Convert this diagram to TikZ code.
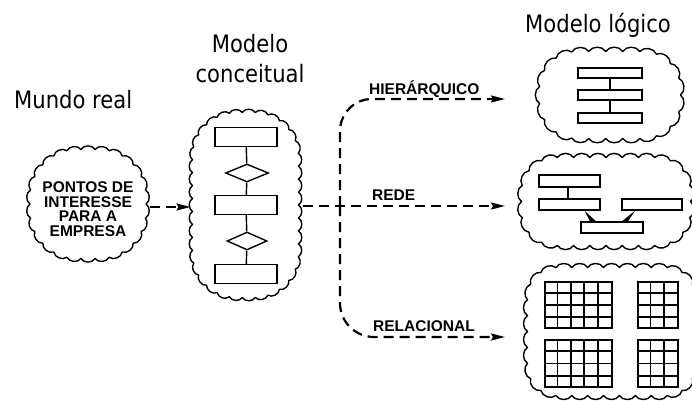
\documentclass[tikz,border=0pt]{standalone}
\usepackage{fontspec}
\usetikzlibrary{shapes.geometric,arrows.meta,calc}
\newfontfamily\headfont[FakeStretch=0.88]{DejaVu Sans}
\newfontfamily\capsfont{Liberation Sans}

% point at arc length s along a rounded rectangle (half sizes \rra, \rrb, radius \rrr)
\tikzset{
  declare function={
    rrx(\s)=(\s<\rrA) ? (\rra) : ((\s<\rrB) ? (\rra-\rrr+\rrr*cos(deg((\s-\rrA)/\rrr))) :
      ((\s<\rrC) ? (\rra-\rrr-(\s-\rrB)) : ((\s<\rrD) ? (-\rra+\rrr+\rrr*cos(90+deg((\s-\rrC)/\rrr))) :
      ((\s<\rrE) ? (-\rra) : ((\s<\rrF) ? (-\rra+\rrr+\rrr*cos(180+deg((\s-\rrE)/\rrr))) :
      ((\s<\rrG) ? (-\rra+\rrr+(\s-\rrF)) : ((\s<\rrH) ? (\rra-\rrr+\rrr*cos(270+deg((\s-\rrG)/\rrr))) :
      (\rra))))))));
    rry(\s)=(\s<\rrA) ? (\s) : ((\s<\rrB) ? (\rrb-\rrr+\rrr*sin(deg((\s-\rrA)/\rrr))) :
      ((\s<\rrC) ? (\rrb) : ((\s<\rrD) ? (\rrb-\rrr+\rrr*sin(90+deg((\s-\rrC)/\rrr))) :
      ((\s<\rrE) ? (\rrb-\rrr-(\s-\rrD)) : ((\s<\rrF) ? (-\rrb+\rrr+\rrr*sin(180+deg((\s-\rrE)/\rrr))) :
      ((\s<\rrG) ? (-\rrb) : ((\s<\rrH) ? (-\rrb+\rrr+\rrr*sin(270+deg((\s-\rrG)/\rrr))) :
      (-\rrb+\rrr+(\s-\rrH)))))))));
  },
  area/.style={inner sep=0pt, outer sep=0pt},
  puffstroke/.style={line width=1.4pt, line join=round},
  head/.style={font=\headfont\fontsize{24}{30}\selectfont, inner sep=0pt},
  tag/.style={font=\capsfont\bfseries\fontsize{15.5}{15}\selectfont, inner sep=0pt, anchor=base west},
  flow/.style={line width=2.2pt, dash pattern=on 10pt off 6pt,
    -{Stealth[length=14pt,width=7pt,inset=2pt]}},
  ent/.style={draw, line width=1.4pt, inner sep=0pt, minimum width=62pt, minimum height=19pt},
  rel/.style={diamond, draw, line width=1.4pt, inner sep=0pt, minimum width=43pt, minimum height=18pt},
  rec/.style={draw, line width=1.4pt, inner sep=0pt, minimum height=11pt},
  link/.style={line width=1.4pt},
  tbl/.style={draw, line width=1.9pt, inner sep=0pt},
  gline/.style={line width=1.7pt}
}

% scalloped outline round a node: node, half width, half height, corner radius, puff size
\newcommand\puffring[5]{%
  \pgfmathsetmacro\rra{#2}\pgfmathsetmacro\rrb{#3}\pgfmathsetmacro\rrr{#4}%
  \pgfmathsetmacro\rrA{\rrb-\rrr}%
  \pgfmathsetmacro\rrB{\rrA+pi*\rrr/2}%
  \pgfmathsetmacro\rrC{\rrB+2*(\rra-\rrr)}%
  \pgfmathsetmacro\rrD{\rrC+pi*\rrr/2}%
  \pgfmathsetmacro\rrE{\rrD+2*(\rrb-\rrr)}%
  \pgfmathsetmacro\rrF{\rrE+pi*\rrr/2}%
  \pgfmathsetmacro\rrG{\rrF+2*(\rra-\rrr)}%
  \pgfmathsetmacro\rrH{\rrG+pi*\rrr/2}%
  \pgfmathsetmacro\rrP{\rrH+\rrb-\rrr}%
  \pgfmathtruncatemacro\rrN{round(\rrP/#5)}%
  \pgfmathsetmacro\rrS{\rrP/\rrN}%
  \draw[puffstroke, shift={(#1.center)}] (\rra,0)
    foreach \k in {1,...,\rrN} {
      to[bend left=60] ({rrx(\k*\rrS)},{rry(\k*\rrS)})
    };}

\begin{document}
\begin{tikzpicture}[x=1pt,y=-1pt]
\useasboundingbox (0,0) rectangle (692,404);

% headings
\node[head, anchor=base west] (hreal) at (14,108) {Mundo real};
\node[head, anchor=base, align=center] (hconc) at (250,82) {Modelo\\conceitual};
\node[head, anchor=base west] (hlog) at (525,33) {Modelo lógico};

% real world
\node[area, minimum width=116pt, minimum height=109pt] (real) at (88,204) {};
\puffring{real}{58}{54.5}{48}{14}
\node[font=\capsfont\bfseries\fontsize{15.5}{14.5}\selectfont, align=center, inner sep=0pt] (realtxt) at (88,209)
  {PONTOS DE\\INTERESSE\\PARA A\\EMPRESA};

% conceptual model
\node[area, minimum width=106pt, minimum height=185pt] (concept) at (245.5,205) {};
\puffring{concept}{53}{92.5}{45}{13}
\node[ent] (e1) at (246,137) {};
\node[rel] (r1) at (247,173) {};
\node[ent] (e2) at (246,205) {};
\node[rel, minimum width=40pt] (r2) at (247,241) {};
\node[ent] (e3) at (246,274) {};
\draw[link] (e1) -- (r1) -- (e2) -- (r2) -- (e3);

\draw[flow, shorten <=4pt, shorten >=2pt] (real.east |- 0,207) -- (concept.west |- 0,207);

% branches to the logical models
\coordinate (split) at (340,206);
\coordinate (hierend) at (505,99);
\coordinate (redeend) at (505,206);
\coordinate (relend) at (505,337);
\draw[flow, shorten <=4pt] (concept.east |- redeend) -- (redeend);
\draw[flow, rounded corners=32pt] (split) |- (hierend);
\draw[flow, rounded corners=34pt] (split) |- (relend);

\node[tag] (thier) at (369,94) {HIERÁRQUICO};
\node[tag] (trede) at (372,200) {REDE};
\node[tag] (trel) at (373,331) {RELACIONAL};

% hierarchical
\node[area, minimum width=141pt, minimum height=87pt] (hier) at (610,95) {};
\puffring{hier}{70.5}{43.5}{38}{17}
\node[rec, minimum width=64pt, minimum height=10pt] (h1) at (610,73) {};
\node[rec, minimum width=64pt, minimum height=10pt] (h2) at (610,95) {};
\node[rec, minimum width=64pt, minimum height=10pt] (h3) at (610,118) {};
\draw[link] (h1) -- (h2) -- (h3);

% network
\node[area, minimum width=169pt, minimum height=88pt] (net) at (606,201.5) {};
\puffring{net}{84.5}{44}{35}{16}
\node[rec, minimum width=61pt, minimum height=12pt] (na) at (569.5,181) {};
\node[rec, minimum width=61pt] (nb) at (569.5,204.5) {};
\node[rec, minimum width=60pt] (nc) at (652,204.5) {};
\node[rec, minimum width=62pt] (nd) at (612,227.5) {};
\draw[link] (na.south -| 568,0) -- (nb.north -| 568,0);
\fill ([xshift=15pt]nb.south) -- ([xshift=-22pt]nd.north) -- ([xshift=-16pt]nd.north) -- cycle;
\fill ([xshift=-17pt]nc.south) -- ([xshift=16pt]nd.north) -- ([xshift=10pt]nd.north) -- cycle;

% relational
\node[area, minimum width=168pt, minimum height=128pt] (relc) at (611.5,331.5) {};
\puffring{relc}{84}{64}{30}{16}
\node[tbl, minimum width=67pt, minimum height=46pt] (t1) at (578.5,305) {};
\node[tbl, minimum width=40pt, minimum height=46pt] (t2) at (658,305) {};
\node[tbl, minimum width=67pt, minimum height=47pt] (t3) at (578.5,363.5) {};
\node[tbl, minimum width=40pt, minimum height=47pt] (t4) at (658,363.5) {};
\foreach \t/\n/\w in {t1/5/67, t2/3/40, t3/5/67, t4/3/40}{
  \foreach \i in {1,...,\numexpr\n-1\relax}
    \draw[gline] ([xshift=\i*\w/\n*1pt]\t.north west) -- ([xshift=\i*\w/\n*1pt]\t.south west);
  \foreach \j in {1,2,3}
    \draw[gline] ($(\t.north west)!\j/4!(\t.south west)$) -- ($(\t.north east)!\j/4!(\t.south east)$);
}
\end{tikzpicture}
\end{document}
